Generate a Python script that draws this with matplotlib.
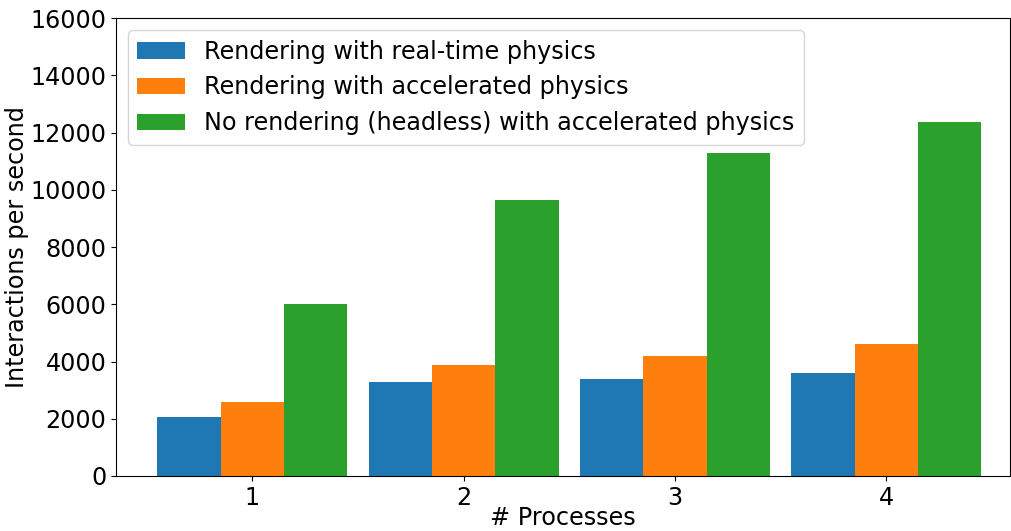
import matplotlib
matplotlib.use("Agg")
import matplotlib.pyplot as plt
import numpy as np

processes = [1, 2, 3, 4]
realtime_render = [2050, 3275, 3380, 3590]
accel_render = [2575, 3870, 4185, 4605]
headless_accel = [6000, 9640, 11280, 12365]
labels = [
    "Rendering with real-time physics",
    "Rendering with accelerated physics",
    "No rendering (headless) with accelerated physics",
]

plt.rcParams["font.size"] = 17.2

fig = plt.figure(figsize=(10.12, 5.31), dpi=100)
ax = fig.add_axes([0.1146, 0.1036, 0.8834, 0.8624])

x = np.array(processes, dtype=float)
w = 0.3
ax.bar(x - w, realtime_render, w, label=labels[0], color="#1f77b4")
ax.bar(x, accel_render, w, label=labels[1], color="#ff7f0e")
ax.bar(x + w, headless_accel, w, label=labels[2], color="#2ca02c")

ax.set_xticks(x)
ax.set_xticklabels([str(p) for p in processes])
ax.set_xlim(0.355, 4.585)
ax.set_ylim(0, 16000)
ax.set_yticks(np.arange(0, 16001, 2000))
ax.set_xlabel("# Processes", labelpad=-3)
ax.set_ylabel("Interactions per second", labelpad=1)
ax.legend(loc="upper left")

fig.savefig("out.png", dpi=100)
